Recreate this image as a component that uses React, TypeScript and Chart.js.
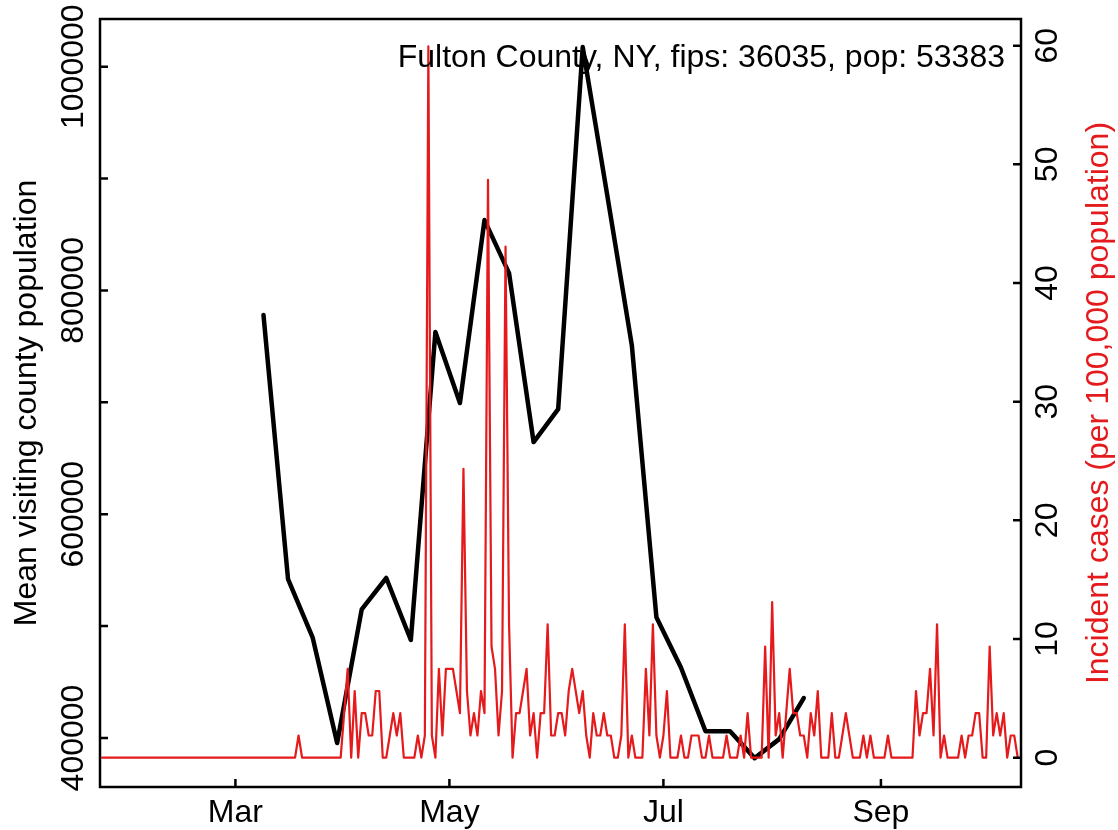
import React, { useEffect, useRef } from "react";
import { Chart, registerables } from "chart.js";

Chart.register(...registerables);

const TITLE = "Fulton County, NY, fips: 36035, pop: 53383";
const LEFT_TITLE = "Mean visiting county population";
const RIGHT_TITLE = "Incident cases (per 100,000 population)";

const X_TICK_DATES = ["2020-03-01", "2020-05-01", "2020-07-01", "2020-09-01"];
const X_TICK_LABELS = ["Mar", "May", "Jul", "Sep"];
const LEFT_TICKS = [400000, 500000, 600000, 700000, 800000, 900000, 1000000];
const LEFT_TICK_LABELS = ["400000", "", "600000", "", "800000", "", "1000000"];
const RIGHT_TICKS = [0, 10, 20, 30, 40, 50, 60];
const RIGHT_TICK_LABELS = ["0", "10", "20", "30", "40", "50", "60"];

// weekly mean visiting county population, first week starting 2020-03-09
const MOBILITY_START = "2020-03-09";
const mobility = [
  778000, 542000, 490000, 395500, 515000, 543000, 487600, 762800, 699400,
  862900, 815500, 664500, 694000, 1017500, 885000, 751000, 508000, 463000,
  406000, 406000, 382000, 399000, 435700,
];

// daily incident cases per 100,000, first day 2020-01-23
const CASES_START = "2020-01-23";
const incidence = [
  0, 0, 0, 0, 0, 0, 0, 0, 0, 0,
  0, 0, 0, 0, 0, 0, 0, 0, 0, 0,
  0, 0, 0, 0, 0, 0, 0, 0, 0, 0,
  0, 0, 0, 0, 0, 0, 0, 0, 0, 0,
  0, 0, 0, 0, 0, 0, 0, 0, 0, 0,
  0, 0, 0, 0, 0, 0, 1.87, 0, 0, 0,
  0, 0, 0, 0, 0, 0, 0, 0, 0, 3.75,
  7.49, 0, 5.62, 0, 3.75, 3.75, 1.87, 1.87, 5.62, 5.62,
  0, 0, 1.87, 3.75, 1.87, 3.75, 0, 0, 0, 0,
  1.87, 0, 1.87, 59.94, 1.87, 0, 7.49, 1.87, 7.49, 7.49,
  7.49, 5.62, 3.75, 24.35, 5.62, 1.87, 3.75, 1.87, 5.62, 3.75,
  48.7, 9.37, 7.49, 1.87, 5.62, 43.08, 11.24, 0, 3.75, 3.75,
  5.62, 7.49, 1.87, 3.75, 0, 3.75, 3.75, 11.24, 1.87, 1.87,
  3.75, 3.75, 1.87, 5.62, 7.49, 5.62, 3.75, 5.62, 1.87, 0,
  3.75, 1.87, 1.87, 3.75, 1.87, 1.87, 0, 0, 1.87, 11.24,
  0, 1.87, 0, 0, 0, 7.49, 1.87, 11.24, 1.87, 0,
  1.87, 5.62, 0, 0, 0, 1.87, 0, 0, 1.87, 1.87,
  1.87, 0, 0, 1.87, 0, 0, 0, 0, 1.87, 0,
  0, 0, 1.87, 0, 3.75, 0, 0, 0, 0, 9.37,
  0, 13.11, 1.87, 3.75, 0, 3.75, 7.49, 3.75, 3.75, 1.87,
  1.87, 0, 3.75, 1.87, 5.62, 0, 0, 0, 3.75, 0,
  0, 1.87, 3.75, 1.87, 0, 0, 0, 1.87, 0, 1.87,
  0, 0, 0, 0, 1.87, 0, 0, 0, 0, 0,
  0, 0, 5.62, 1.87, 3.75, 3.75, 7.49, 1.87, 11.24, 0,
  1.87, 0, 0, 0, 0, 1.87, 0, 1.87, 1.87, 3.75,
  3.75, 0, 0, 9.37, 1.87, 3.75, 1.87, 3.75, 0, 1.87,
  1.87, 0,
];

const X_MIN = 21.4;
const X_MAX = 283.93;
const LEFT_MIN = 356200;
const LEFT_MAX = 1042630;
const RIGHT_MIN = -2.47;
const RIGHT_MAX = 62.25;

const RED = "#E41A1C";
const FONT = '32px "Liberation Sans", Arial, sans-serif';

function dayOf(iso: string): number {
  const [y, m, d] = iso.split("-").map(Number);
  return (Date.UTC(y, m - 1, d) - Date.UTC(2020, 0, 1)) / 86400000;
}

const axesPlugin = {
  id: "rAxes",
  afterDraw(chart: any) {
    const ctx = chart.ctx as CanvasRenderingContext2D;
    const { left, right, top, bottom } = chart.chartArea;
    const xs = chart.scales.x;
    const yl = chart.scales.y;
    const yr = chart.scales.y1;
    ctx.save();
    ctx.strokeStyle = "#000";
    ctx.lineWidth = 2.5;
    ctx.lineCap = "butt";
    ctx.strokeRect(left, top, right - left, bottom - top);
    const tl = 8;
    ctx.beginPath();
    X_TICK_DATES.forEach((d) => {
      const px = xs.getPixelForValue(dayOf(d));
      ctx.moveTo(px, bottom);
      ctx.lineTo(px, bottom - tl);
    });
    LEFT_TICKS.forEach((v) => {
      const py = yl.getPixelForValue(v);
      ctx.moveTo(left, py);
      ctx.lineTo(left + tl, py);
    });
    RIGHT_TICKS.forEach((v) => {
      const py = yr.getPixelForValue(v);
      ctx.moveTo(right, py);
      ctx.lineTo(right - tl, py);
    });
    ctx.stroke();

    ctx.font = FONT;
    ctx.fillStyle = "#000";
    ctx.textAlign = "center";
    ctx.textBaseline = "middle";
    X_TICK_DATES.forEach((d, i) => {
      const px = xs.getPixelForValue(dayOf(d));
      ctx.fillText(X_TICK_LABELS[i], px, bottom + 26);
    });
    LEFT_TICKS.forEach((v, i) => {
      if (!LEFT_TICK_LABELS[i]) return;
      const py = yl.getPixelForValue(v);
      ctx.save();
      ctx.translate(left - 26, py);
      ctx.rotate(-Math.PI / 2);
      ctx.fillText(LEFT_TICK_LABELS[i], 0, 0);
      ctx.restore();
    });
    RIGHT_TICKS.forEach((v, i) => {
      const py = yr.getPixelForValue(v);
      ctx.save();
      ctx.translate(right + 27, py);
      ctx.rotate(-Math.PI / 2);
      ctx.fillText(RIGHT_TICK_LABELS[i], 0, 0);
      ctx.restore();
    });
    const midY = (top + bottom) / 2;
    ctx.save();
    ctx.translate(27, midY);
    ctx.rotate(-Math.PI / 2);
    ctx.fillText(LEFT_TITLE, 0, 0);
    ctx.restore();
    ctx.save();
    ctx.fillStyle = RED;
    ctx.translate(1099, midY);
    ctx.rotate(-Math.PI / 2);
    ctx.fillText(RIGHT_TITLE, 0, 0);
    ctx.restore();

    ctx.textAlign = "right";
    ctx.fillText(TITLE, 1005, 58);
    ctx.restore();
  },
};

export default function App() {
  const ref = useRef<HTMLCanvasElement | null>(null);
  useEffect(() => {
    document.body.style.margin = "0";
    const canvas = ref.current;
    if (!canvas) return;
    const m0 = dayOf(MOBILITY_START);
    const c0 = dayOf(CASES_START);
    const chart = new Chart(canvas, {
      type: "line",
      data: {
        datasets: [
          {
            label: "incidence",
            data: incidence.map((v, i) => ({ x: c0 + i, y: v })),
            yAxisID: "y1",
            borderColor: RED,
            borderWidth: 2.2,
            pointRadius: 0,
            tension: 0,
            borderJoinStyle: "round",
            borderCapStyle: "round",
            fill: false,
          },
          {
            label: "mobility",
            data: mobility.map((v, i) => ({ x: m0 + i * 7, y: v })),
            yAxisID: "y",
            borderColor: "#000",
            borderWidth: 4.5,
            pointRadius: 0,
            tension: 0,
            borderJoinStyle: "round",
            borderCapStyle: "round",
            fill: false,
          },
        ],
      },
      options: {
        animation: false,
        responsive: false,
        devicePixelRatio: 1,
        layout: { padding: { left: 100, right: 97, top: 19, bottom: 43 } },
        plugins: { legend: { display: false }, tooltip: { enabled: false } },
        scales: {
          x: { type: "linear", min: X_MIN, max: X_MAX, display: false },
          y: { type: "linear", min: LEFT_MIN, max: LEFT_MAX, display: false },
          y1: { type: "linear", min: RIGHT_MIN, max: RIGHT_MAX, display: false, position: "right" },
        },
      },
      plugins: [axesPlugin],
    });
    return () => chart.destroy();
  }, []);
  return (
    <div style={{ width: 1118, height: 830, position: "relative", background: "#fff" }}>
      <canvas ref={ref} width={1118} height={830} style={{ width: 1118, height: 830, display: "block" }} />
    </div>
  );
}
